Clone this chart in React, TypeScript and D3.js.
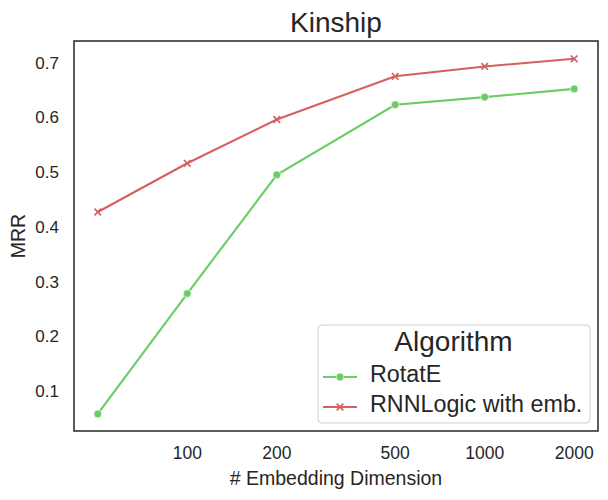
import React from "react";
import * as d3 from "d3";

const dims = [50, 100, 200, 500, 1000, 2000];
const rotatE = [0.058, 0.278, 0.495, 0.623, 0.637, 0.652];
const rnnLogic = [0.427, 0.516, 0.596, 0.675, 0.693, 0.707];
const xTicks = [100, 200, 500, 1000, 2000];
const yTicks = [0.1, 0.2, 0.3, 0.4, 0.5, 0.6, 0.7];
const seriesNames = ["RotatE", "RNNLogic with emb."];
const colors = ["#6acc64", "#d65f5f"];

const W = 608, H = 500;
const left = 74, right = 598, top = 41, bottom = 431;
const FONT = "'Liberation Sans', Arial, sans-serif";
const TXT = "#262626";

export default function App() {
  const x = d3.scaleLog().domain([41.6, 2405]).range([left, right]);
  const y = d3.scaleLinear().domain([0.0268, 0.7395]).range([bottom, top]);
  const line = d3
    .line<number>()
    .x((_, i) => x(dims[i]))
    .y((d) => y(d));
  const series = [rotatE, rnnLogic];
  const cross = (cx: number, cy: number, s: number, c: string, k: string) => (
    <path
      key={k}
      d={`M${cx - s},${cy - s}L${cx + s},${cy + s}M${cx - s},${cy + s}L${cx + s},${cy - s}`}
      stroke={c}
      strokeWidth={1.7}
      fill="none"
    />
  );
  return (
    <svg width={W} height={H} style={{ position: "absolute", left: 0, top: 0 }} fontFamily={FONT}>
      <rect x={0} y={0} width={W} height={H} fill="#fff" />
      <text x={(left + right) / 2} y={32} textAnchor="middle" fontSize={28} fill={TXT}>
        Kinship
      </text>
      {series.map((s, si) => (
        <g key={si}>
          <path d={line(s) || ""} fill="none" stroke={colors[si]} strokeWidth={2.1} />
          {s.map((v, i) =>
            si === 0 ? (
              <circle key={i} cx={x(dims[i])} cy={y(v)} r={3.9} fill={colors[si]} stroke="#fff" strokeWidth={0.6} />
            ) : (
              cross(x(dims[i]), y(v), 3.3, colors[si], String(i))
            )
          )}
        </g>
      ))}
      <rect x={left} y={top} width={right - left} height={bottom - top} fill="none" stroke={TXT} strokeWidth={1.5} />
      {yTicks.map((t) => (
        <text key={t} x={59} y={y(t)} dy="0.36em" textAnchor="end" fontSize={17} fill={TXT}>
          {t.toFixed(1)}
        </text>
      ))}
      {xTicks.map((t) => (
        <text key={t} x={x(t)} y={458.5} textAnchor="middle" fontSize={17.5} fill={TXT}>
          {t}
        </text>
      ))}
      <text x={(left + right) / 2} y={485} textAnchor="middle" fontSize={19.5} fill={TXT}>
        # Embedding Dimension
      </text>
      <text transform={`translate(25,${(top + bottom) / 2}) rotate(-90)`} textAnchor="middle" fontSize={19.5} fill={TXT}>
        MRR
      </text>
      <g>
        <rect x={318} y={325} width={272} height={98} rx={4} fill="#fff" fillOpacity={0.8} stroke="#d0d0d0" strokeWidth={1} />
        <text x={453.5} y={350.5} textAnchor="middle" fontSize={28} fill={TXT}>
          Algorithm
        </text>
        {seriesNames.map((n, i) => {
          const ly = 377 + i * 30;
          const by = 382.3 + i * 29.4;
          return (
            <g key={n}>
              <line x1={323} x2={357} y1={ly} y2={ly} stroke={colors[i]} strokeWidth={2.1} />
              {i === 0 ? (
                <circle cx={340} cy={ly} r={3.9} fill={colors[i]} stroke="#fff" strokeWidth={0.6} />
              ) : (
                cross(340, ly, 3.3, colors[i], "l")
              )}
              <text x={370} y={by} fontSize={23.3} fill={TXT}>
                {n}
              </text>
            </g>
          );
        })}
      </g>
    </svg>
  );
}
